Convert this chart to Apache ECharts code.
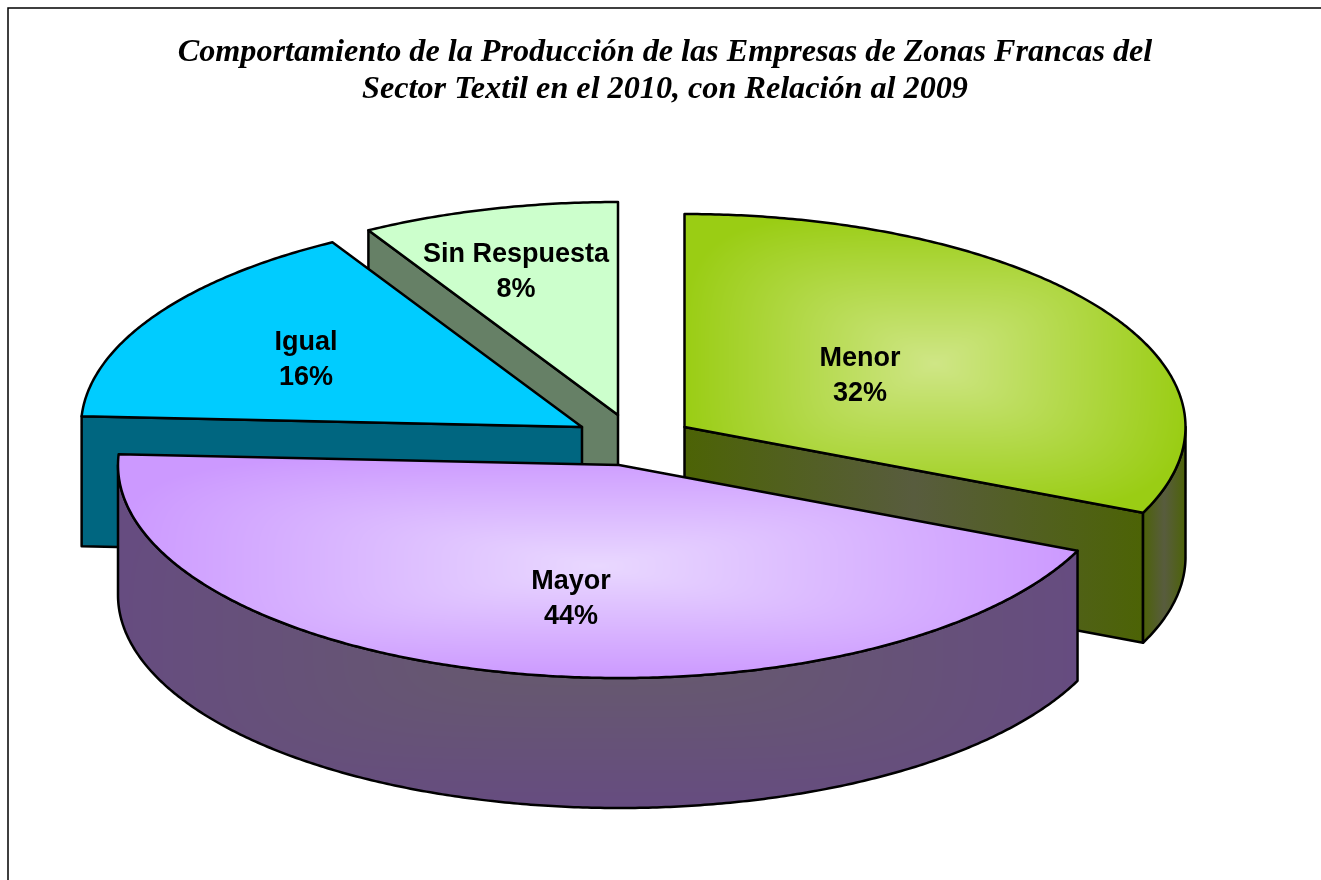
<!DOCTYPE html>
<html lang="es">
  <head>
    <meta charset="UTF-8" />
    <title>Comportamiento de la Producción</title>
    <style>
      html, body { margin: 0; padding: 0; background: #fff; }
      #container { width: 1321px; height: 880px; }
    </style>
    <script src="https://cdn.jsdelivr.net/npm/echarts@6.0.0/dist/echarts.min.js"></script>
  </head>
  <body>
    <div id="container"></div>
    <script>
      const categories = ['Menor', 'Mayor', 'Igual', 'Sin Respuesta']
      const values = [31.6, 44.2, 15.9, 8.3]
      const titleLines = [
        'Comportamiento de la Producción de las Empresas de Zonas Francas del',
        'Sector Textil en el 2010, con Relación al 2009',
      ]

      // layout of the tilted pie, ECharts has no 3d pie so the slices are a custom series
      const radiusX = 501
      const radiusY = 213
      const depth = 130
      const apexes = [[684.5, 427], [619, 465], [582, 427], [618, 415]]
      const labelSpots = [[860, 376], [571, 599], [306, 360], [516, 272]]
      const paintOrder = [2, 3, 1, 0]
      const outline = { stroke: '#000', lineWidth: 2.5, lineJoin: 'round' }

      const topFills = [
        { edge: [154, 205, 20], centre: [207, 230, 134] },
        { edge: [204, 153, 255], centre: [233, 216, 255] },
        '#00ccff',
        '#ccffcc',
      ]
      const sideFills = [
        { edge: '#4c6305', centre: '#585c3e' },
        { edge: [102, 76, 128], centre: [102, 92, 106] },
        '#006680',
        '#668066',
      ]

      const total = values.reduce((a, b) => a + b, 0)
      let running = 0
      const angles = values.map((v) => {
        const start = echarts.number.linearMap(running, [0, total], [0, 360])
        running += v
        return [start, echarts.number.linearMap(running, [0, total], [0, 360])]
      })

      function rimPoint(apex, deg, drop) {
        const rad = (deg * Math.PI) / 180
        return [
          apex[0] + radiusX * Math.sin(rad),
          apex[1] - radiusY * Math.cos(rad) + drop,
        ]
      }

      function arc(apex, from, to, drop) {
        const pts = []
        const steps = Math.max(2, Math.ceil(Math.abs(to - from) * 2))
        for (let k = 0; k <= steps; k++) {
          pts.push(rimPoint(apex, from + ((to - from) * k) / steps, drop))
        }
        return pts
      }

      function boxOf(points) {
        const xs = points.map((p) => p[0])
        const ys = points.map((p) => p[1])
        const x = Math.floor(Math.min(...xs))
        const y = Math.floor(Math.min(...ys))
        return {
          x: x,
          y: y,
          w: Math.ceil(Math.max(...xs)) - x,
          h: Math.ceil(Math.max(...ys)) - y,
        }
      }

      // excel style "from centre" gradient, rounded rectangle falloff over the bounding box
      function glow(box, edge, centre) {
        const canvas = document.createElement('canvas')
        canvas.width = box.w
        canvas.height = box.h
        const ctx = canvas.getContext('2d')
        const img = ctx.createImageData(box.w, box.h)
        for (let j = 0; j < box.h; j++) {
          for (let i = 0; i < box.w; i++) {
            const u = Math.abs((i + 0.5) / box.w - 0.5) * 2
            const v = Math.abs((j + 0.5) / box.h - 0.5) * 2
            const t = Math.min(1, Math.pow(u * u * u * u + v * v * v * v, 1 / 4))
            const at = (j * box.w + i) * 4
            for (let c = 0; c < 3; c++) {
              img.data[at + c] = centre[c] + (edge[c] - centre[c]) * t
            }
            img.data[at + 3] = 255
          }
        }
        ctx.putImageData(img, 0, 0)
        return { image: canvas, repeat: 'no-repeat', x: box.x, y: box.y }
      }

      function bands(edge, centre) {
        return {
          type: 'linear',
          x: 0,
          y: 0,
          x2: 1,
          y2: 0,
          colorStops: [
            { offset: 0, color: edge },
            { offset: 0.5, color: centre },
            { offset: 1, color: edge },
          ],
        }
      }

      function face(points, fill, z2) {
        return {
          type: 'polygon',
          z2: z2,
          shape: { points: points },
          style: Object.assign({ fill: fill }, outline),
        }
      }

      function quad(apex, deg) {
        const outer = rimPoint(apex, deg, 0)
        const outerLow = rimPoint(apex, deg, depth)
        return [apex, outer, outerLow, [apex[0], apex[1] + depth]]
      }

      function sideFill(i, points) {
        const f = sideFills[i]
        if (typeof f === 'string') return f
        if (typeof f.edge === 'string') return bands(f.edge, f.centre)
        return glow(boxOf(points), f.edge, f.centre)
      }

      function renderSlice(params, api) {
        const i = params.dataIndex
        const apex = apexes[i]
        const a0 = angles[i][0]
        const a1 = angles[i][1]
        const base = paintOrder[i] * 10
        const children = []

        // radial walls, only those turned to the viewer
        if (a0 > 180 && a0 < 360) {
          const pts = quad(apex, a0)
          children.push(face(pts, sideFill(i, pts), base))
        }
        if (a1 > 0 && a1 < 180) {
          const pts = quad(apex, a1)
          children.push(face(pts, sideFill(i, pts), base))
        }

        // outer wall is visible on the lower half of the ellipse
        const r0 = Math.max(a0, 90)
        const r1 = Math.min(a1, 270)
        if (r1 > r0) {
          const pts = arc(apex, r0, r1, 0).concat(arc(apex, r1, r0, depth))
          children.push(face(pts, sideFill(i, pts), base + 1))
        }

        const top = [apex].concat(arc(apex, a0, a1, 0))
        const tf = topFills[i]
        const topFill =
          typeof tf === 'string' ? tf : glow(boxOf(top), tf.edge, tf.centre)
        children.push(face(top, topFill, base + 2))

        children.push({
          type: 'text',
          z2: 100,
          x: labelSpots[i][0],
          y: labelSpots[i][1],
          style: {
            text: categories[i] + '\n' + Math.round(api.value(0)) + '%',
            fill: '#000',
            font: 'bold 27px "Liberation Sans", Arial, sans-serif',
            lineHeight: 35,
            align: 'center',
            verticalAlign: 'middle',
          },
        })
        return { type: 'group', children: children }
      }

      const chart = echarts.init(document.getElementById('container'))
      chart.setOption({
        animation: false,
        backgroundColor: '#fff',
        title: {
          text: titleLines.join('\n'),
          left: 660,
          top: 29,
          textAlign: 'center',
          textStyle: {
            fontFamily: '"Liberation Serif", "Times New Roman", serif',
            fontStyle: 'italic',
            fontWeight: 'bold',
            fontSize: 32.2,
            lineHeight: 37,
            color: '#000',
          },
        },
        graphic: {
          elements: [
            {
              type: 'polyline',
              silent: true,
              shape: { points: [[8, 880], [8, 8], [1321, 8]] },
              style: { stroke: '#000', lineWidth: 1.5, fill: null },
            },
          ],
        },
        series: [
          {
            type: 'custom',
            coordinateSystem: 'none',
            silent: true,
            renderItem: renderSlice,
            data: categories.map((name, i) => ({ name: name, value: values[i] })),
          },
        ],
      })
    </script>
  </body>
</html>
